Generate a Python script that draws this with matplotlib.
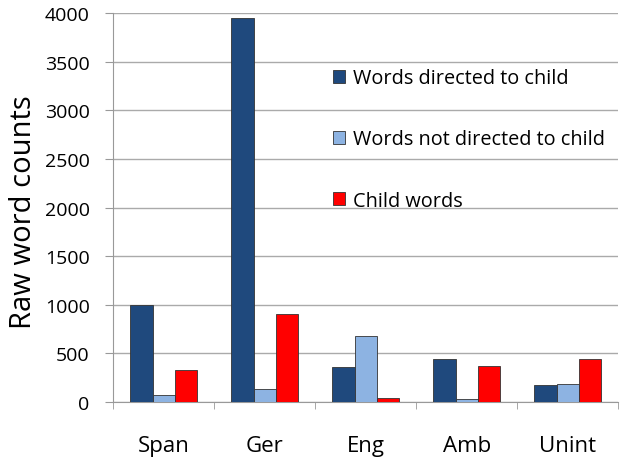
import matplotlib.pyplot as plt
import numpy as np

# categorias y valores
categorias = ['Span', 'Ger', 'Eng', 'Amb', 'Unint']
dirigidas = [1000, 3950, 360, 446, 175]
no_dirigidas = [69, 138, 683, 35, 189]
nino = [329, 902, 45, 367, 439]

series = [('Words directed to child', dirigidas, '#1f497d'),
          ('Words not directed to child', no_dirigidas, '#8db3e2'),
          ('Child words', nino, '#ff0000')]

plt.rcParams['font.family'] = ['Open Sans', 'DejaVu Sans']

fig = plt.figure(figsize=(6.22, 4.64), dpi=100)
ax = fig.add_axes([0.182, 0.1315, 0.812, 0.838])

x = np.arange(len(categorias))
ancho = 0.22
for i, (nombre, vals, color) in enumerate(series):
    ax.bar(x + (i - 1) * ancho, vals, ancho, color=color, edgecolor='#333333',
           linewidth=0.6, label=nombre, zorder=3)

ax.set_xlim(-0.5, len(categorias) - 0.5)
ax.set_ylim(0, 4000)
ax.set_yticks(range(0, 4001, 500))
ax.tick_params(axis='y', labelsize=14, length=6, color='#999999', pad=11)
ax.set_xticks(x)
ax.set_xticklabels(categorias, fontsize=16)
ax.tick_params(axis='x', length=0, pad=24)
ax.set_xticks(np.arange(-0.5, len(categorias)), minor=True)
ax.tick_params(axis='x', which='minor', length=5, color='#999999')
ax.set_ylabel('Raw word counts', fontsize=21)
ax.yaxis.set_label_coords(-0.148, 0.49)

ax.grid(axis='y', color='#aaaaaa', linewidth=1, zorder=0)
for lado in ['top', 'right']:
    ax.spines[lado].set_visible(False)
ax.spines['left'].set_color('#999999')
ax.spines['bottom'].set_color('#999999')

ax.legend(loc='upper left', bbox_to_anchor=(0.435, 0.858), frameon=False,
          fontsize=14.3, labelspacing=2.07, handlelength=0.6, handleheight=0.6,
          handletextpad=0.4, borderpad=0, borderaxespad=0)

plt.savefig('out.png')
